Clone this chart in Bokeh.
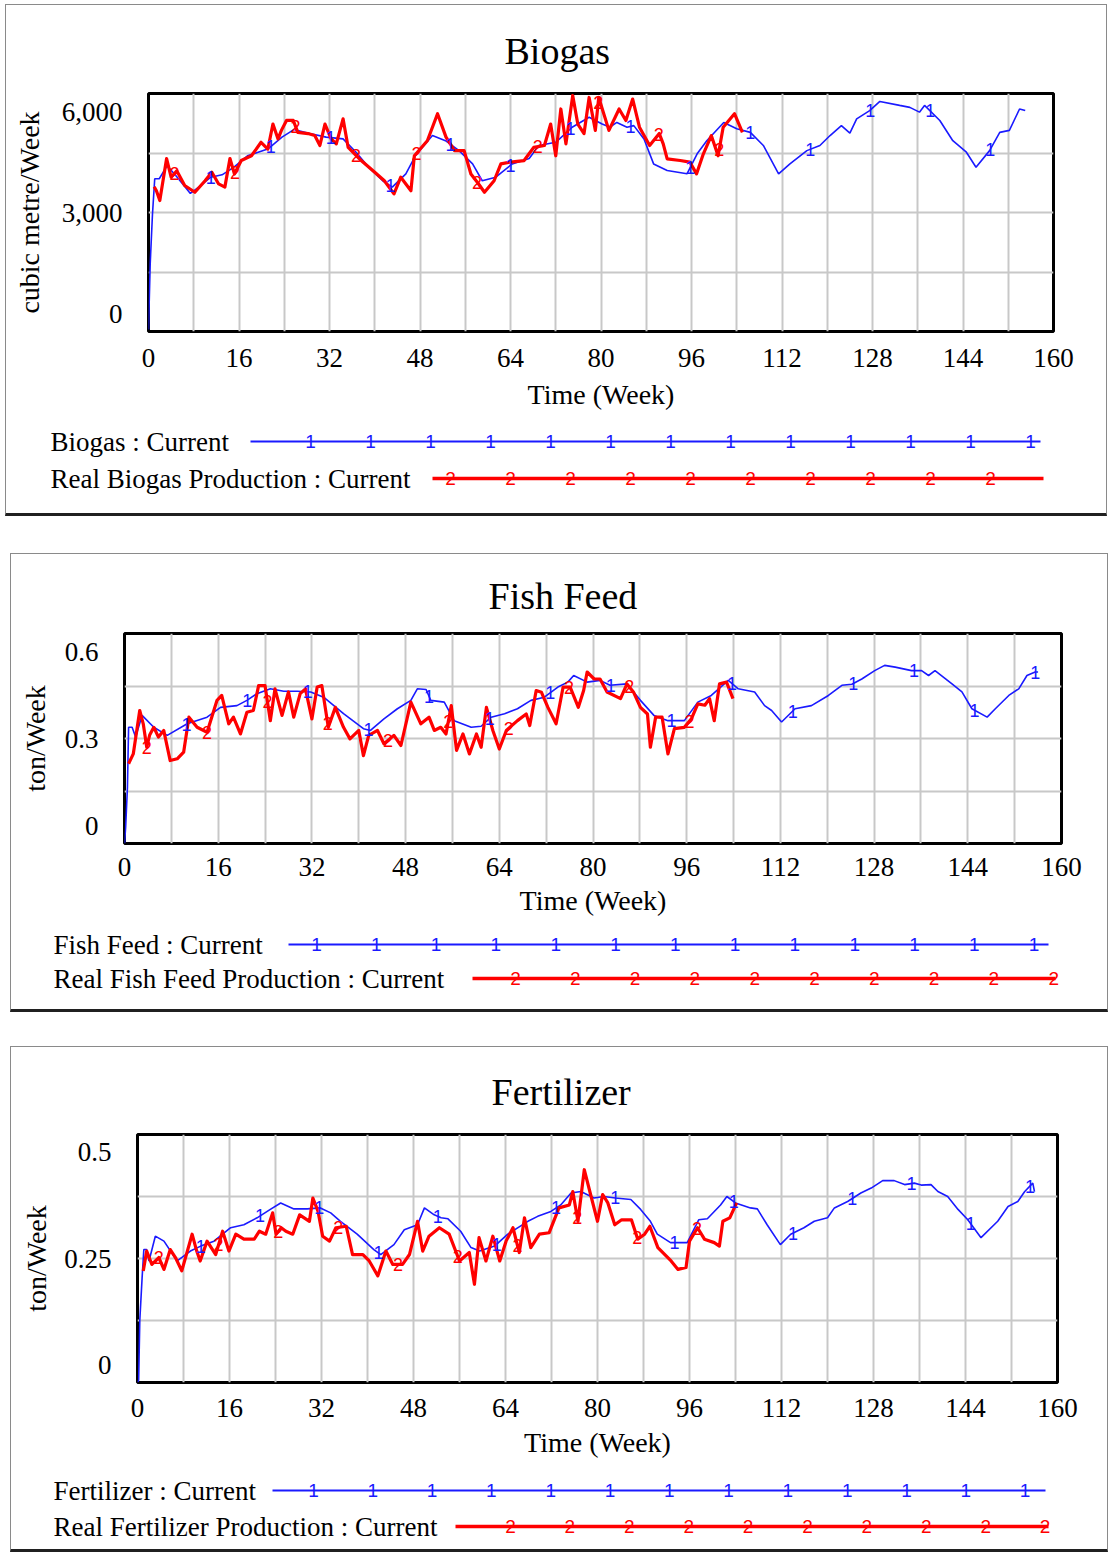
import numpy as np
from bokeh.plotting import figure
from bokeh.models import Range1d, FixedTicker, Spacer
from bokeh.layouts import column
from bokeh.embed import file_html
from bokeh.resources import INLINE
from bokeh.core.properties import value

# ---------------- data ----------------
X_TICKS = [0, 16, 32, 48, 64, 80, 96, 112, 128, 144, 160]

BIOGAS_SIM_WEEK = [0, 0.3, 0.7, 1.1, 1.9, 3.3, 5, 7.4, 9, 11, 13, 15, 17.5, 19, 21.2, 23.6, 25.7, 28.5, 31.4,
                   34.4, 36.7, 39, 41.4, 43.1, 45.5, 47.2, 50.2, 52.5, 54.9, 57.3, 59, 61.4, 64.3, 67.3, 69, 72,
                   74.9, 77.9, 80.2, 81.6, 82.8, 84.6, 85.8, 87.6, 89.3, 91.7, 95.2, 97, 98.7, 101.7, 104, 106.4,
                   108.7, 111.4, 113.4, 116.4, 118.7, 120.5, 122.5, 124, 125.2, 127.5, 129.3, 132.8, 134.6, 136.3,
                   137.2, 139.9, 142.2, 144.6, 146.3, 148.7, 150.5, 152.2, 154, 155]
BIOGAS_SIM = [50, 1700, 2950, 3850, 3850, 4180, 3900, 3480, 3650, 3890, 3950, 4130, 4430, 4500, 4610, 4900, 5090,
              4990, 4900, 4855, 4520, 4130, 3800, 3640, 3975, 4435, 4940, 4810, 4560, 4225, 3800, 3890, 4225, 4360,
              4690, 4770, 5150, 5400, 5230, 5150, 5270, 5150, 5190, 4855, 4225, 4060, 3975, 4480, 4810, 5270, 5110,
              5020, 4690, 3975, 4225, 4560, 4690, 4940, 5190, 5000, 5360, 5570, 5800, 5700, 5650, 5530, 5700, 5320,
              4810, 4520, 4140, 4560, 5020, 5070, 5610, 5570]

BIOGAS_REAL_WEEK = [1, 1.4, 2, 3.2, 4, 5, 6.4, 8.2, 10, 11.2, 12.4, 13.5, 14.4, 15.2, 16.4, 18.2, 19.9, 21.1, 22,
                    22.9, 23.5, 24.4, 25.6, 26.4, 28.2, 29.4, 30.3, 31.2, 32.3, 33.2, 34.4, 35.3, 37.6, 40, 41.7,
                    43.4, 44.6, 46.4, 47, 49.3, 51.1, 52.6, 54.1, 55.8, 57, 58.2, 59.4, 61.1, 62.3, 64, 66.4, 68.1,
                    70, 71.1, 72, 72.9, 73.8, 75, 75.9, 77, 77.9, 79, 79.6, 81.4, 83.2, 84.4, 85.6, 86.8, 88.6, 90.3,
                    91, 91.7, 94, 95.7, 96.9, 98.1, 99.5, 100.7, 101.6, 103.6, 105]
BIOGAS_REAL = [3650, 3550, 3300, 4360, 3890, 4050, 3680, 3510, 3800, 4015, 3720, 3640, 4360, 3970, 4310, 4430, 4770,
               4600, 5230, 4855, 5070, 5320, 5320, 5020, 4990, 4940, 4690, 5230, 4855, 4730, 5360, 4640, 4310, 4015,
               3800, 3470, 3890, 3550, 4430, 4810, 5490, 4900, 4560, 4560, 3970, 3750, 3510, 3800, 4225, 4270, 4310,
               4640, 4690, 5230, 4430, 5610, 4730, 5950, 5230, 4990, 5900, 5070, 5900, 5070, 5610, 5320, 5860, 5150,
               4690, 4990, 4730, 4350, 4310, 4270, 3975, 4480, 4940, 4430, 5150, 5490, 5020]

FISH_SIM_WEEK = [0, 0.2, 0.5, 0.7, 1.3, 1.9, 3, 5, 7.3, 10.7, 14.1, 16.4, 19.2, 20.9, 22.6, 24.9, 27.2, 29.5, 31.8,
                 34, 37.4, 40.8, 42, 44.3, 46.6, 48.9, 50, 51.5, 52.3, 54.6, 56.3, 59.2, 60.9, 62.6, 64.9, 67.1, 69.4,
                 71.7, 74, 75.7, 76.7, 79, 81.2, 82.9, 85.8, 88.1, 90.4, 92.8, 95.6, 97.9, 100.2, 103.1, 104.8, 107.6,
                 109.3, 110.5, 112.2, 114.5, 117.3, 120.2, 122.5, 124.2, 125.9, 128.1, 129.8, 131.6, 134.4, 136.1,
                 137.3, 138.4, 141.3, 143, 144.7, 147.3, 148.7, 151, 152.7, 154.1, 155.5, 156]
FISH_SIM = [0.0, 0.047, 0.16, 0.332, 0.332, 0.304, 0.366, 0.332, 0.309, 0.342, 0.361, 0.389, 0.394, 0.409, 0.428,
            0.442, 0.435, 0.435, 0.433, 0.418, 0.371, 0.328, 0.323, 0.356, 0.385, 0.409, 0.442, 0.44, 0.409, 0.404,
            0.351, 0.332, 0.335, 0.361, 0.371, 0.385, 0.409, 0.418, 0.447, 0.461, 0.48, 0.461, 0.466, 0.452, 0.456,
            0.409, 0.366, 0.351, 0.351, 0.404, 0.423, 0.466, 0.442, 0.433, 0.394, 0.38, 0.347, 0.385, 0.394, 0.423,
            0.452, 0.455, 0.47, 0.494, 0.509, 0.504, 0.494, 0.494, 0.48, 0.494, 0.456, 0.433, 0.385, 0.361, 0.385,
            0.423, 0.442, 0.48, 0.49, 0.49]

FISH_REAL_WEEK = [0.7, 1.5, 2.6, 3.2, 3.8, 4.3, 5, 5.8, 6.7, 7.8, 9, 10.1, 11, 12.4, 14.1, 15.8, 16.6, 17.8, 18.6,
                  19.8, 20.9, 22, 22.9, 24, 24.9, 25.7, 26.9, 28, 28.9, 30, 30.9, 32, 32.9, 33.7, 34.8, 36, 37.4,
                  38.5, 40, 40.8, 41.7, 43.2, 44.3, 46, 47.2, 48.9, 50.6, 52, 52.9, 54, 54.9, 55.8, 56.7, 57.8, 58.9,
                  60.1, 60.9, 61.8, 62.9, 64, 65.2, 67.1, 68.6, 69.2, 70.3, 71.2, 72.3, 73.7, 74.9, 76.1, 77.5, 78.4,
                  79, 80.2, 81.2, 82.4, 84.7, 85.8, 86.9, 88.1, 89.3, 89.8, 90.7, 91.8, 92.8, 93.9, 95.6, 96.8, 97.9,
                  99.1, 99.9, 100.7, 101.6, 102.8, 103.9]
FISH_REAL = [0.228, 0.256, 0.38, 0.342, 0.275, 0.31, 0.332, 0.304, 0.323, 0.237, 0.242, 0.261, 0.361, 0.332, 0.318,
             0.409, 0.423, 0.342, 0.361, 0.313, 0.375, 0.38, 0.451, 0.451, 0.351, 0.442, 0.366, 0.433, 0.361, 0.428,
             0.442, 0.356, 0.447, 0.451, 0.332, 0.389, 0.332, 0.299, 0.323, 0.251, 0.309, 0.323, 0.285, 0.309, 0.28,
             0.404, 0.342, 0.361, 0.323, 0.332, 0.313, 0.394, 0.266, 0.313, 0.256, 0.313, 0.275, 0.389, 0.323, 0.27,
             0.323, 0.351, 0.37, 0.337, 0.437, 0.432, 0.389, 0.342, 0.447, 0.447, 0.389, 0.437, 0.49, 0.47, 0.47,
             0.433, 0.414, 0.456, 0.433, 0.389, 0.37, 0.275, 0.361, 0.361, 0.256, 0.328, 0.332, 0.356, 0.399, 0.395,
             0.414, 0.351, 0.456, 0.461, 0.414]

FERT_SIM_WEEK = [0, 0.2, 0.4, 0.8, 1.1, 1.6, 2, 3.1, 4.6, 6.9, 9.2, 11, 13.3, 16.2, 18.5, 20.8, 23.1, 24.9, 27.2,
                 29.5, 31.8, 33.6, 35.3, 38.2, 41.1, 42.3, 44.6, 46.4, 48.7, 49.9, 51.6, 52.8, 54, 56.2, 58, 59.5,
                 62.1, 64.4, 67.9, 69.6, 71.9, 73.6, 75.4, 77.1, 79.4, 81.1, 83.1, 85.8, 87.5, 89.2, 90.4, 92.7, 95.6,
                 97.6, 99.1, 101.4, 102.5, 104, 106.6, 107.8, 109.5, 111.8, 113.6, 115.9, 117.7, 120, 121.2, 123.5,
                 125.8, 127.6, 129.6, 131.6, 133.4, 135.1, 136.3, 138, 139.2, 140.9, 142.7, 144.4, 146.7, 149.6,
                 151.4, 153.1, 154.3, 155.7, 156]
FERT_SIM = [0.0, 0.005, 0.125, 0.211, 0.268, 0.268, 0.245, 0.295, 0.285, 0.245, 0.265, 0.275, 0.285, 0.312, 0.318,
            0.332, 0.349, 0.362, 0.35, 0.35, 0.352, 0.342, 0.325, 0.299, 0.268, 0.258, 0.278, 0.308, 0.318, 0.352,
            0.338, 0.332, 0.33, 0.305, 0.272, 0.265, 0.275, 0.299, 0.325, 0.335, 0.345, 0.358, 0.382, 0.385, 0.372,
            0.375, 0.372, 0.369, 0.349, 0.325, 0.299, 0.282, 0.282, 0.328, 0.33, 0.358, 0.375, 0.362, 0.352, 0.35,
            0.318, 0.278, 0.299, 0.312, 0.325, 0.332, 0.352, 0.365, 0.382, 0.392, 0.407, 0.407, 0.399, 0.402, 0.398,
            0.399, 0.385, 0.375, 0.349, 0.328, 0.292, 0.325, 0.355, 0.365, 0.385, 0.402, 0.385]

FERT_REAL_WEEK = [1, 1.6, 2.5, 3.7, 4.6, 5.7, 6.6, 7.7, 9.5, 10.3, 10.9, 12.1, 13.6, 14.8, 15.9, 17.1, 18.5, 20.3,
                  21.2, 22.3, 23.5, 24.1, 25, 25.8, 27, 28.2, 29.9, 30.5, 31.4, 32.2, 33.4, 34.5, 36.3, 37.4, 39.2,
                  40.3, 41.8, 43.2, 44.4, 46.1, 47.3, 48.7, 49.6, 50.7, 52.5, 54.2, 56, 57.7, 58.6, 59.4, 60.6, 61.8,
                  63, 64.1, 65.3, 66.4, 67.3, 68.4, 69.9, 71.6, 73.3, 75.1, 75.7, 76.6, 77.7, 78.8, 80, 80.9, 81.8,
                  83, 84.2, 85.9, 87, 88.2, 89.1, 90.5, 92.8, 94, 95.4, 96, 97.4, 98.6, 100.3, 101.2, 101.8, 103, 104.2]
FERT_REAL = [0.225, 0.265, 0.238, 0.252, 0.228, 0.268, 0.252, 0.225, 0.299, 0.265, 0.245, 0.285, 0.258, 0.305,
             0.265, 0.299, 0.289, 0.289, 0.305, 0.299, 0.342, 0.299, 0.312, 0.305, 0.299, 0.338, 0.325, 0.372, 0.345,
             0.295, 0.285, 0.312, 0.315, 0.258, 0.258, 0.245, 0.215, 0.265, 0.238, 0.238, 0.258, 0.325, 0.265, 0.295,
             0.312, 0.299, 0.245, 0.262, 0.198, 0.292, 0.245, 0.295, 0.245, 0.285, 0.312, 0.262, 0.332, 0.272, 0.299,
             0.302, 0.352, 0.358, 0.385, 0.325, 0.429, 0.379, 0.325, 0.379, 0.362, 0.318, 0.328, 0.328, 0.289, 0.299,
             0.315, 0.272, 0.245, 0.228, 0.232, 0.285, 0.312, 0.289, 0.282, 0.275, 0.325, 0.332, 0.362]

# ---------------- styling ----------------
SERIF = "Liberation Serif"
SANS = "Liberation Sans"
BLUE = "#1a1aff"
RED = "#ff0000"
GRID = "#c8c8c8"

PANELS = [
    dict(title="Biogas", ylabel="cubic metre/Week", ymax=6000, ylabels=["0", "3,000", "6,000"],
         sim_w=BIOGAS_SIM_WEEK, sim=BIOGAS_SIM, real_w=BIOGAS_REAL_WEEK, real=BIOGAS_REAL,
         leg1="Biogas : Current", leg2="Real Biogas Production : Current",
         W=1100, margin=(4, 0, 0, 5),
         L=142, R=53, T=88, B=89, frame_h=238, title_left=356, title_standoff=44, ylab_standoff=14,
         xlab=(11, 9),
         leg_h=93, rows=(21, 58), leg_x=44, l1=(244, 1034, 304, 60.0, 13), l2=(426, 1037, 444, 60.0, 10),
         m1=(11.0, 10.6), m2=(4.6, 10.7), gap=37),
    dict(title="Fish Feed", ylabel="ton/Week", ymax=0.6, ylabels=["0", "0.3", "0.6"],
         sim_w=FISH_SIM_WEEK, sim=FISH_SIM, real_w=FISH_REAL_WEEK, real=FISH_REAL,
         leg1="Fish Feed : Current", leg2="Real Fish Feed Production : Current",
         W=1096, margin=(0, 0, 0, 10),
         L=113, R=46, T=79, B=77, frame_h=210, title_left=364, title_standoff=34, ylab_standoff=11,
         xlab=(8, 6),
         leg_h=89, rows=(24, 58), leg_x=42, l1=(277, 1037, 305, 59.8, 13), l2=(461, 1044, 504, 59.8, 10),
         m1=(10.6, 10.35), m2=(3.8, 10.3), gap=34),
    dict(title="Fertilizer", ylabel="ton/Week", ymax=0.5, ylabels=["0", "0.25", "0.5"],
         sim_w=FERT_SIM_WEEK, sim=FERT_SIM, real_w=FERT_REAL_WEEK, real=FERT_REAL,
         leg1="Fertilizer : Current", leg2="Real Fertilizer Production : Current",
         W=1096, margin=(0, 0, 0, 10),
         L=126, R=50, T=86, B=83, frame_h=249, title_left=354, title_standoff=43, ylab_standoff=9,
         xlab=(10, 7),
         leg_h=84, rows=(25, 61), leg_x=42, l1=(261, 1034, 302, 59.3, 13), l2=(444, 1037, 499, 59.4, 10),
         m1=(11.0, 10.3), m2=(3.7, 10.4), gap=0),
]


def make_panel(c):
    H = c["T"] + c["frame_h"] + c["B"]
    ymax = c["ymax"]
    W = c["W"]
    p = figure(width=W, height=H, x_range=Range1d(0, 160), y_range=Range1d(0, ymax),
               output_backend="svg", toolbar_location=None, title=c["title"],
               min_border_left=c["L"], min_border_right=c["R"],
               min_border_top=c["T"], min_border_bottom=c["B"])
    p.frame_align = False
    p.title.text_font = SERIF
    p.title.text_font_size = "38px"
    p.title.text_font_style = "normal"
    p.title.text_color = "black"
    p.title.align = "left"
    p.title.offset = c["title_left"]
    p.title.standoff = c["title_standoff"]
    p.outline_line_color = "black"
    p.outline_line_width = 3
    p.background_fill_color = "white"
    p.border_fill_color = "white"

    # grid
    p.xgrid.ticker = FixedTicker(ticks=list(range(8, 160, 8)))
    p.ygrid.ticker = FixedTicker(ticks=[ymax * k / 4 for k in (1, 2, 3)])
    p.grid.grid_line_color = GRID
    p.grid.grid_line_width = 2

    # axes
    p.xaxis.ticker = FixedTicker(ticks=X_TICKS)
    inset = ymax * 18 / c["frame_h"]
    yt = [inset, ymax / 2, ymax - inset]
    p.yaxis.ticker = FixedTicker(ticks=yt)
    p.yaxis.major_label_overrides = {t: s for t, s in zip(yt, c["ylabels"])}
    for ax in (p.xaxis[0], p.yaxis[0]):
        ax.axis_line_color = None
        ax.major_tick_line_color = None
        ax.minor_tick_line_color = None
        ax.major_label_text_font = SERIF
        ax.major_label_text_font_size = "27px"
        ax.major_label_text_color = "black"
        ax.axis_label_text_font = SERIF
        ax.axis_label_text_font_size = "28px"
        ax.axis_label_text_font_style = "normal"
        ax.axis_label_text_color = "black"
    p.xaxis.axis_label = "Time (Week)"
    p.yaxis.axis_label = c["ylabel"]
    p.xaxis.major_label_standoff = c["xlab"][0]
    p.xaxis.axis_label_standoff = c["xlab"][1]
    p.yaxis.major_label_standoff = 20
    p.yaxis.axis_label_standoff = c["ylab_standoff"]

    # series
    p.line(c["sim_w"], c["sim"], line_color=BLUE, line_width=1.6)
    p.line(c["real_w"], c["real"], line_color=RED, line_width=3.2, line_join="round")

    # numbered markers along the lines
    s0, ds = c["m1"]
    mw = np.arange(s0, c["sim_w"][-1], ds)
    p.text(mw, np.interp(mw, c["sim_w"], c["sim"]), text=["1"] * len(mw), text_color=BLUE,
           text_font=value(SANS), text_font_size="18px", text_align="center", text_baseline="middle")
    s0, ds = c["m2"]
    mw = np.arange(s0, c["real_w"][-1], ds)
    p.text(mw, np.interp(mw, c["real_w"], c["real"]), text=["2"] * len(mw), text_color=RED,
           text_font=value(SANS), text_font_size="18px", text_align="center", text_baseline="middle")

    # legend strip
    lh = c["leg_h"]
    lg = figure(width=W, height=lh, x_range=Range1d(0, W), y_range=Range1d(lh, 0),
                output_backend="svg", toolbar_location=None, x_axis_type=None, y_axis_type=None,
                min_border=0, min_border_left=0, min_border_right=0, min_border_top=0, min_border_bottom=0)
    lg.frame_align = False
    lg.grid.visible = False
    lg.outline_line_color = None
    lg.background_fill_color = "white"
    lg.border_fill_color = "white"
    r1, r2 = c["rows"]
    lg.text([c["leg_x"], c["leg_x"]], [r1, r2], text=[c["leg1"], c["leg2"]],
            text_font=value(SERIF), text_font_size="27px", text_align="left", text_baseline="middle",
            text_color="black")
    for (x0, x1, m0, dm, n), row, col, lab, lw in ((c["l1"], r1, BLUE, "1", 2),
                                                    (c["l2"], r2, RED, "2", 3.5)):
        lg.line([x0, x1], [row, row], line_color=col, line_width=lw)
        xs = [m0 + dm * k for k in range(n)]
        lg.text(xs, [row] * n, text=[lab] * n, text_color=col, text_font=value(SANS),
                text_font_size="19px", text_align="center", text_baseline="middle")

    box = column(p, lg, spacing=0, margin=c["margin"],
                 styles={"border-top": "1px solid #8a8a8a", "border-left": "1px solid #8a8a8a",
                         "border-right": "1px solid #8a8a8a", "border-bottom": "3px solid #202020",
                         "background-color": "white"})
    return box


items = []
for c in PANELS:
    items.append(make_panel(c))
    if c["gap"]:
        items.append(Spacer(width=10, height=c["gap"]))

page = column(*items, spacing=0)
open("out.html", "w").write(file_html(page, INLINE, title="Biogas, Fish Feed, Fertilizer"))
